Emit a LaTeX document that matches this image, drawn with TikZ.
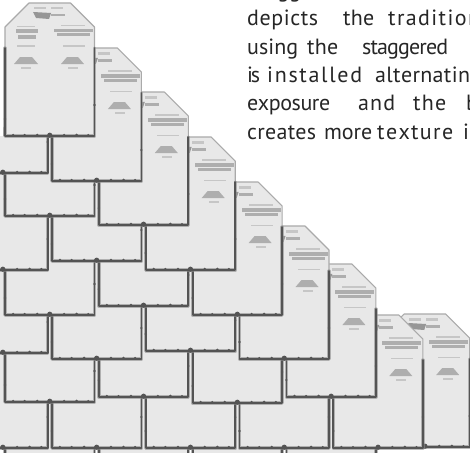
\documentclass[tikz,border=0pt]{standalone}
\usepackage{fontspec}
\newfontfamily\txtfont{PT Sans}
\definecolor{shfill}{HTML}{E8E8E8}
\definecolor{edgedark}{HTML}{545454}
\definecolor{edgesoft}{HTML}{8C8C8C}
\definecolor{outlinegray}{HTML}{AAAAAA}
\definecolor{labelgray}{HTML}{C6C6C6}
\definecolor{labelmid}{HTML}{AEAEAE}
\definecolor{labeldark}{HTML}{969696}
\definecolor{inktext}{HTML}{262626}
\tikzset{
 shbody/.style={fill=shfill, draw=none},
 edgeblur/.style={draw=edgesoft, line width=3.4pt, line join=round, line cap=round, opacity=0.6},
 edgecore/.style={draw=edgedark, line width=1.8pt, line join=round, line cap=round},
 edgeknob/.style={fill=edgedark},
 topline/.style={draw=outlinegray, line width=1.1pt, line join=round},
 lbllight/.style={fill=labelgray},
 lblmid/.style={fill=labelmid},
 lbldark/.style={fill=labeldark},
 para/.style={anchor=base west, inner sep=0pt, text=inktext, font=\txtfont\fontsize{22}{26}\selectfont},
}
% spread the letters of a word evenly over a given width
\def\SpreadFirst#1{#1\SpreadRest}
\def\SpreadRest#1{\ifx#1\relax\else\hskip0pt plus1fil minus1fil\relax#1\expandafter\SpreadRest\fi}
\newcommand\Wd[2]{\makebox[#1pt][s]{\SpreadFirst#2\relax}}
\newcommand\ShgEdges[3]{%
  \draw[edgeblur] (#1,#3-88) -- (#1,#3) -- (#2,#3) -- (#2,#3-88);
  \draw[edgecore] (#1,#3-88) -- (#1,#3) -- (#2,#3) -- (#2,#3-88);
  \foreach \f/\r in {0.09/1.5,0.22/1.4,0.36/1.6,0.5/2.6,0.66/1.5,0.8/1.7,0.93/1.4}
    \fill[edgeknob] ({#1+\f*(#2-#1)},#3-0.8) circle[radius=\r*1pt];
  \fill[edgeknob] (#1,#3-17) circle[radius=1.3pt];
  \fill[edgeknob] (#2,#3-31) circle[radius=1.3pt];
}
\newcommand\ShgLabel[2]{%
  \fill[lbllight] (#1+29,#2+4) rectangle (#1+41,#2+6.5);
  \fill[lbllight] (#1+46,#2+4) rectangle (#1+58,#2+6.5);
  \fill[lbldark] (#1+28,#2+9) -- (#1+46,#2+10) -- (#1+44,#2+16) -- (#1+31,#2+15) -- cycle;
  \fill[lblmid] (#1+46,#2+11) rectangle (#1+60,#2+13.5);
  \fill[lbllight] (#1+12,#2+23) rectangle (#1+30,#2+24.5);
  \fill[lblmid] (#1+11,#2+26.5) rectangle (#1+33,#2+30.5);
  \fill[lblmid] (#1+13,#2+32) rectangle (#1+31,#2+36);
  \fill[lbllight] (#1+56,#2+22) rectangle (#1+80,#2+23.5);
  \fill[lblmid] (#1+49,#2+26) rectangle (#1+88,#2+29.5);
  \fill[lblmid] (#1+52,#2+30.5) rectangle (#1+85,#2+33.5);
  \fill[lbllight] (#1+12,#2+42.5) rectangle (#1+30,#2+44);
  \fill[lbllight] (#1+58,#2+42.5) rectangle (#1+80,#2+44);
  \fill[lblmid] (#1+9,#2+61) -- (#1+15,#2+54) -- (#1+27,#2+54) -- (#1+33,#2+61) -- cycle;
  \fill[lblmid] (#1+56,#2+61) -- (#1+62,#2+54) -- (#1+73,#2+54) -- (#1+79,#2+61) -- cycle;
  \fill[lbllight] (#1+16,#2+64) rectangle (#1+26,#2+66);
  \fill[lbllight] (#1+63,#2+64) rectangle (#1+73,#2+66);
}
% plain shingle: column k, bottom, top
\newcommand\ShgT[3]{%
  \pgfmathsetmacro\xl{5+46.9*#1}\pgfmathsetmacro\xr{\xl+89.5}%
  \fill[shbody] (\xl,#3) rectangle (\xr,#2);
  \ShgEdges{\xl}{\xr}{#2}
}
\newcommand\Shg[2]{\ShgT{#1}{#2}{#2-133}}
% top (chamfered, labelled) shingle: column k, bottom
\newcommand\TopShg[2]{%
  \pgfmathsetmacro\xl{5+46.9*#1}\pgfmathsetmacro\xr{\xl+89.5}\pgfmathsetmacro\yt{#2-133}%
  \fill[shbody] (\xl,\yt+24) -- (\xl+24,\yt) -- (\xr-24,\yt) -- (\xr,\yt+24) -- (\xr,#2) -- (\xl,#2) -- cycle;
  \ShgLabel{\xl}{\yt}
  \draw[topline] (\xl,\yt+60) -- (\xl,\yt+24) -- (\xl+24,\yt) -- (\xr-24,\yt) -- (\xr,\yt+24) -- (\xr,\yt+60);
  \ShgEdges{\xl}{\xr}{#2}
}
\begin{document}
\begin{tikzpicture}[x=1pt,y=-1pt]
\useasboundingbox (0,0) rectangle (470,452);
\clip (0,0) rectangle (470,452);
\fill[white] (0,0) rectangle (470,452);
% row 8
\TopShg{8}{447}
\Shg{0}{492}\Shg{2}{492}\Shg{4}{492}\Shg{6}{492}
% row 7
\Shg{-1}{448}\Shg{1}{448}\Shg{3}{448}\Shg{5}{448}
\TopShg{7}{448}
% row 6
\Shg{0}{402}\Shg{2}{397}\Shg{4}{403}
\TopShg{6}{397}
% row 5
\Shg{-1}{353}\Shg{1}{359}\Shg{3}{351}
\TopShg{5}{359}
% row 4
\Shg{0}{315}\Shg{2}{306}
\TopShg{4}{315}
% row 3
\Shg{-1}{270}\Shg{1}{261}
\TopShg{3}{270}
% row 2
\Shg{0}{216}
\TopShg{2}{225}
% row 1
\ShgT{-1}{173}{136}
\TopShg{1}{181}
% row 0
\TopShg{0}{136}
% paragraph
\node[para] (w0a) at (247,-2) {Staggered};
\node[para] (w1a) at (247,26) {\Wd{71}{depicts}};
\node[para] (w1b) at (343,26) {\Wd{31}{the}};
\node[para] (w1c) at (388,26) {\Wd{112}{traditional}};
\node[para] (w2a) at (247,54) {\Wd{51}{using}};
\node[para] (w2b) at (307,54) {\Wd{31}{the}};
\node[para] (w2c) at (362,54) {\Wd{86}{staggered}};
\node[para] (w3a) at (247,82.5) {\Wd{13}{is}};
\node[para] (w3b) at (267,82.5) {\Wd{95}{installed}};
\node[para] (w3c) at (375,82.5) {\Wd{107}{alternating}};
\node[para] (w4a) at (247,110.5) {\Wd{83}{exposure}};
\node[para] (w4b) at (358,110.5) {\Wd{37}{and}};
\node[para] (w4c) at (413,110.5) {\Wd{33}{the}};
\node[para] (w4d) at (466,110.5) {\Wd{40}{butt}};
\node[para] (w5a) at (247,139) {\Wd{69}{creates}};
\node[para] (w5b) at (324,139) {\Wd{48}{more}};
\node[para] (w5c) at (377,139) {\Wd{76}{texture}};
\node[para] (w5d) at (463,139) {\Wd{18}{in}};
\end{tikzpicture}
\end{document}
